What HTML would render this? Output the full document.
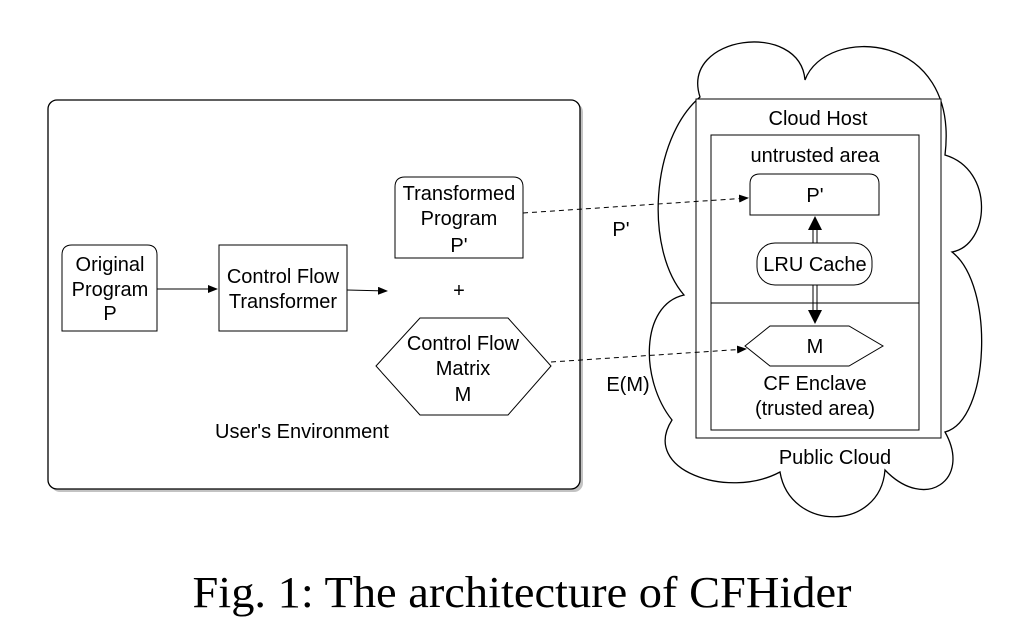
<!DOCTYPE html>
<html><head><meta charset="utf-8"><style>
html,body{margin:0;padding:0;background:#fff;}
svg{display:block;}
text{font-family:"Liberation Sans",sans-serif;font-size:20px;fill:#000;text-anchor:middle;}
</style></head><body>
<svg width="1015" height="631" viewBox="0 0 1015 631" xmlns="http://www.w3.org/2000/svg">
<defs>
<marker id="a" markerWidth="10" markerHeight="8" refX="9" refY="4" orient="auto" markerUnits="userSpaceOnUse"><path d="M0,0 L10,4 L0,8 Z" fill="#000"/></marker>
</defs>
<rect x="51" y="103" width="532" height="389" rx="9" fill="#888" opacity="0.5"/>
<rect x="48" y="100" width="532" height="389" rx="9" fill="#fff" stroke="#000" stroke-width="1.3"/>
<path d="M62,331 V255 Q62,245 72,245 H147 Q157,245 157,255 V331 Z" fill="#fff" stroke="#000"/>
<text x="110" y="271">Original</text><text x="110" y="296">Program</text><text x="110" y="320">P</text>
<rect x="219" y="245" width="128" height="86" fill="#fff" stroke="#000"/>
<text x="283" y="283">Control Flow</text><text x="283" y="308">Transformer</text>
<line x1="157" y1="289" x2="217" y2="289" stroke="#000" marker-end="url(#a)"/>
<line x1="347" y1="290" x2="387" y2="291" stroke="#000" marker-end="url(#a)"/>
<path d="M395,258 V187 Q395,177 405,177 H513 Q523,177 523,187 V258 Z" fill="#fff" stroke="#000"/>
<text x="459" y="200">Transformed</text><text x="459" y="225">Program</text><text x="459" y="252">P'</text>
<text x="459" y="297">+</text>
<polygon points="376,366 420,318 508,318 551,366 508,415 420,415" fill="#fff" stroke="#000"/>
<text x="463" y="350">Control Flow</text><text x="463" y="375">Matrix</text><text x="463" y="401">M</text>
<text x="302" y="438">User's Environment</text>
<path d="M700,97 C680,35 800,20 805,80 C825,25 960,30 945,155 C995,170 990,245 952,252 C995,285 990,420 945,432 C972,480 925,512 885,470 C880,532 790,532 780,472 C728,500 640,470 672,420 C640,380 640,305 684,295 C645,250 650,140 700,97 Z" fill="#fff" stroke="#000" stroke-width="1.3"/>
<rect x="696" y="99" width="245" height="339" fill="#fff" stroke="#000"/>
<text x="818" y="125">Cloud Host</text>
<rect x="711" y="135" width="208" height="168" fill="#fff" stroke="#000"/>
<rect x="711" y="303" width="208" height="127" fill="#fff" stroke="#000"/>
<text x="815" y="162">untrusted area</text>
<path d="M750,215 V184 Q750,174 760,174 H869 Q879,174 879,184 V215 Z" fill="#fff" stroke="#000"/>
<text x="815" y="202">P'</text>
<rect x="757" y="243" width="115" height="42" rx="18" fill="#fff" stroke="#000"/>
<text x="815" y="271">LRU Cache</text>
<line x1="813" y1="243" x2="813" y2="228" stroke="#000"/><line x1="817" y1="243" x2="817" y2="228" stroke="#000"/>
<path d="M808,230 L815,216 L822,230 Z" fill="#000"/>
<line x1="813" y1="285" x2="813" y2="312" stroke="#000"/><line x1="817" y1="285" x2="817" y2="312" stroke="#000"/>
<path d="M808,310 L815,324 L822,310 Z" fill="#000"/>
<polygon points="745,346 770,326 849,326 883,346 849,366 770,366" fill="#fff" stroke="#000"/>
<text x="815" y="353">M</text>
<text x="815" y="390">CF Enclave</text><text x="815" y="415">(trusted area)</text>
<text x="835" y="464">Public Cloud</text>
<line x1="523" y1="213" x2="748" y2="198" stroke="#000" stroke-dasharray="5,4" marker-end="url(#a)"/>
<line x1="551" y1="362" x2="746" y2="349" stroke="#000" stroke-dasharray="5,4" marker-end="url(#a)"/>
<text x="621" y="236">P'</text>
<text x="628" y="391">E(M)</text>
<text x="522" y="607" textLength="659" lengthAdjust="spacingAndGlyphs" style="font-family:'Liberation Serif',serif;font-size:44px">Fig. 1: The architecture of CFHider</text>
</svg>
</body></html>
